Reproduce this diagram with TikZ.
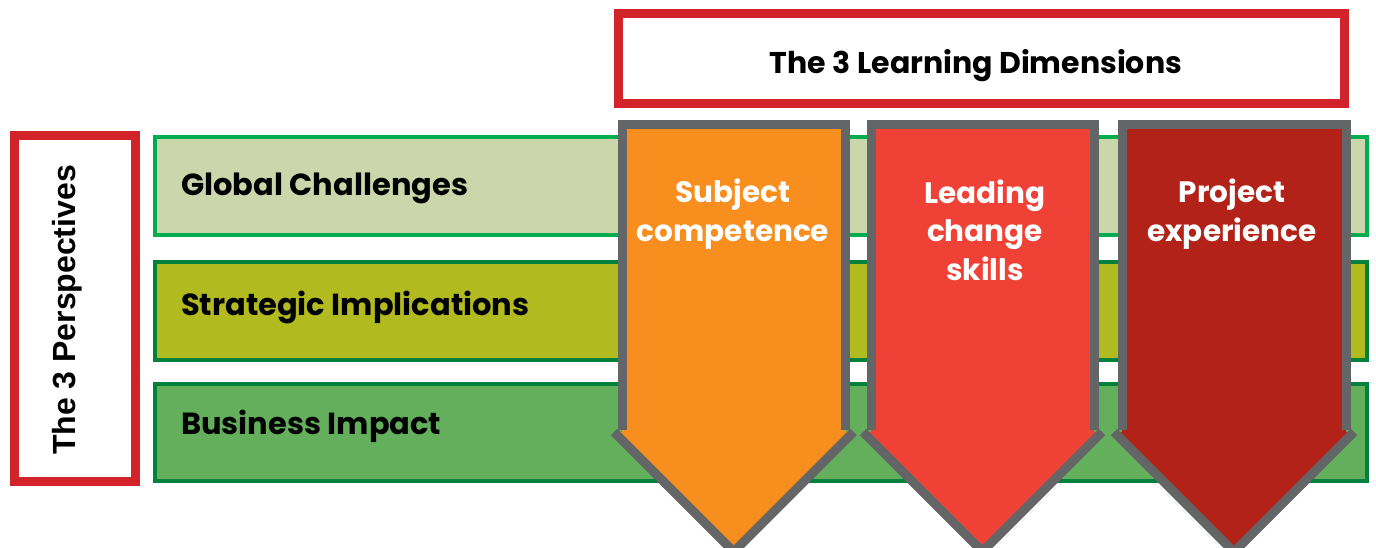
\documentclass[tikz,border=0pt]{standalone}
\usepackage{fontspec}
\setmainfont{Poppins}
\newfontfamily\perspFont{Liberation Sans}
\definecolor{barLight}{RGB}{203,214,170}
\definecolor{barOlive}{RGB}{177,186,31}
\definecolor{barGreen}{RGB}{99,175,92}
\definecolor{lineLight}{RGB}{0,172,80}
\definecolor{lineDark}{RGB}{0,130,60}
\definecolor{frameRed}{RGB}{210,35,42}
\definecolor{frameGray}{RGB}{100,101,102}
\definecolor{dimOrange}{RGB}{247,142,30}
\definecolor{dimRed}{RGB}{239,65,54}
\definecolor{dimDark}{RGB}{178,34,24}

\begin{document}
\begin{tikzpicture}[x=1pt,y=-1pt,
	bar/.style={line width=4pt},
	redFrame/.style={draw=frameRed,line width=9pt},
	rowText/.style={anchor=base west,inner sep=0pt,font=\fontsize{30.5}{36}\selectfont\bfseries},
	dimText/.style={anchor=base,align=center,inner sep=0pt,text=white,font=\fontsize{29.5}{38.5}\selectfont\bfseries},
	arrowLine/.style={draw=frameGray,line width=9pt},
]
	\useasboundingbox (0,0) rectangle (1376,548);

	\def\shaftTop{125};
	\def\headTop{432};
	\def\wing{8};

	% perspectives
	\draw[bar,fill=barLight,draw=lineLight](155,137.5) rectangle (1367,235.5);
	\draw[bar,fill=barOlive,draw=lineDark](155,261.5) rectangle (1367,359.5);
	\draw[bar,fill=barGreen,draw=lineDark](155,384) rectangle (1367,481);

	\node[rowText](global) at(181,196){Global Challenges};
	\node[rowText](strategic) at(181,315){Strategic Implications};
	\node[rowText](business) at(181,434){Business Impact};

	\draw[redFrame](14,136) rectangle (135.5,481.5);
	\node[rotate=90,anchor=base,inner sep=0pt,font=\perspFont\fontsize{32}{36}\selectfont\bfseries](persp) at(75,310){The 3 Perspectives};

	% dimensions
	\draw[redFrame](618,13.5) rectangle (1344,103.5);
	\node[anchor=base,inner sep=0pt,font=\fontsize{30}{36}\selectfont\bfseries](dims) at(976,74){The 3 Learning Dimensions};

	\foreach \xl/\xr/\col in {622/845.5/dimOrange,871/1094/dimRed,1122/1346/dimDark}{
		\pgfmathsetmacro{\xc}{(\xl+\xr)/2}
		\pgfmathsetmacro{\tip}{\headTop+(\xr-\xl)/2+\wing}
		\fill[\col](\xl,\shaftTop) -- (\xr,\shaftTop) -- (\xr,\headTop) -- (\xr+\wing,\headTop) -- (\xc,\tip) -- (\xl-\wing,\headTop) -- (\xl,\headTop) -- cycle;
		\draw[arrowLine](\xl,430) -- (\xl,\shaftTop) -- (\xr,\shaftTop) -- (\xr,430);
		\draw[arrowLine](\xl-\wing,\headTop) -- (\xc,\tip) -- (\xr+\wing,\headTop);
	}

	% base is on the last line
	\node[dimText](subject) at(733,241){Subject\\competence};
	\node[dimText](leading) at(985,280){Leading\\change\\skills};
	\node[dimText](project) at(1232,241){Project\\experience};

\end{tikzpicture}
\end{document}
